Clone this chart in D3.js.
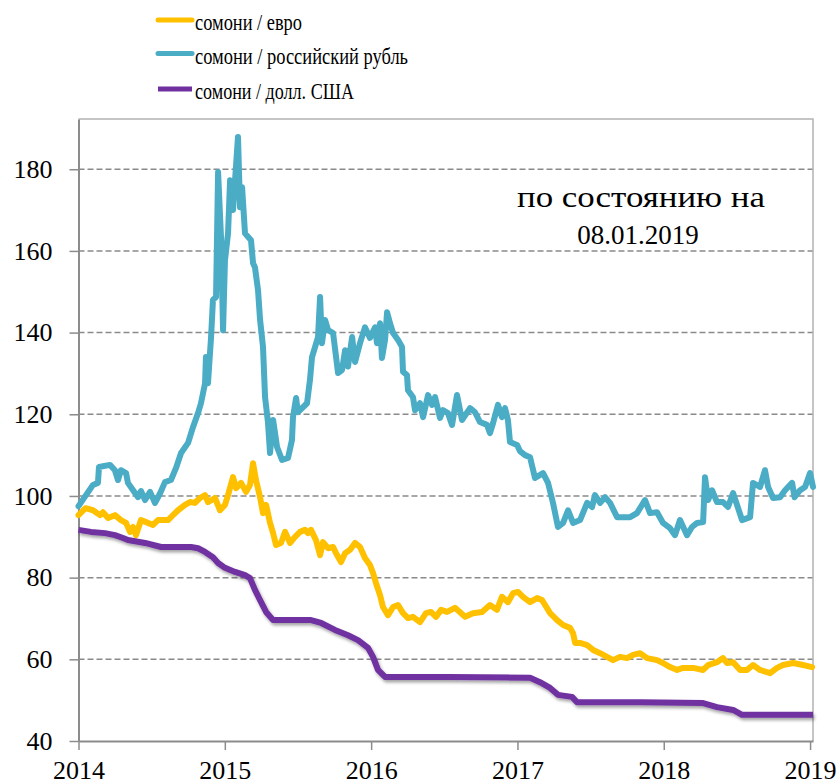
<!DOCTYPE html>
<html>
<head>
<meta charset="utf-8">
<script src="https://cdn.jsdelivr.net/npm/d3@7"></script>
<style>
  body { margin: 0; background: #fff; }
  svg { display: block; }
  text { font-family: "Liberation Serif", "DejaVu Serif", serif; fill: #000; }
</style>
</head>
<body>
<div id="chart"></div>
<script>
// chart params
var svgWidth = 840;
var svgHeight = 784;

// plot box (pixels)
var plotLeft = 78.5, plotRight = 813, plotTop = 119, plotBottom = 741;

// y ticks and x ticks
var yTicks = [40, 60, 80, 100, 120, 140, 160, 180];
var xTicks = [2014, 2015, 2016, 2017, 2018, 2019];

var seriesNames = ["сомони / евро", "сомони / российский рубль", "сомони / долл. США"];
var seriesColors = ["#ffc000", "#4bacc6", "#7030a0"];

// somoni / russian rouble (decimal years, index values)
var rubYears = [2014.000, 2014.099, 2014.133, 2014.140, 2014.215, 2014.249, 2014.270, 2014.290, 2014.325, 2014.338,
  2014.373, 2014.407, 2014.427, 2014.455, 2014.489, 2014.523, 2014.557, 2014.591, 2014.632, 2014.666,
  2014.701, 2014.749, 2014.783, 2014.817, 2014.837, 2014.865, 2014.871, 2014.885, 2014.906, 2014.919,
  2014.940, 2014.954, 2014.974, 2014.988, 2015.001, 2015.022, 2015.036, 2015.056, 2015.070, 2015.090,
  2015.104, 2015.118, 2015.138, 2015.179, 2015.193, 2015.206, 2015.227, 2015.241, 2015.261, 2015.275,
  2015.295, 2015.309, 2015.330, 2015.357, 2015.391, 2015.432, 2015.459, 2015.466, 2015.487, 2015.500,
  2015.562, 2015.582, 2015.596, 2015.617, 2015.637, 2015.651, 2015.664, 2015.685, 2015.706, 2015.740,
  2015.774, 2015.801, 2015.822, 2015.842, 2015.870, 2015.890, 2015.924, 2015.958, 2015.992, 2016.027,
  2016.040, 2016.061, 2016.074, 2016.095, 2016.109, 2016.129, 2016.150, 2016.184, 2016.211, 2016.218,
  2016.245, 2016.252, 2016.286, 2016.300, 2016.334, 2016.355, 2016.389, 2016.416, 2016.437, 2016.471,
  2016.491, 2016.525, 2016.553, 2016.587, 2016.621, 2016.676, 2016.710, 2016.744, 2016.792, 2016.812,
  2016.833, 2016.867, 2016.894, 2016.915, 2016.935, 2016.949, 2016.997, 2017.017, 2017.052, 2017.086,
  2017.120, 2017.175, 2017.209, 2017.243, 2017.277, 2017.312, 2017.346, 2017.380, 2017.428, 2017.476,
  2017.510, 2017.530, 2017.565, 2017.599, 2017.633, 2017.681, 2017.770, 2017.817, 2017.872, 2017.906,
  2017.954, 2017.995, 2018.043, 2018.077, 2018.111, 2018.159, 2018.193, 2018.228, 2018.269, 2018.282,
  2018.303, 2018.330, 2018.364, 2018.405, 2018.439, 2018.474, 2018.501, 2018.535, 2018.590, 2018.610,
  2018.658, 2018.692, 2018.713, 2018.747, 2018.795, 2018.829, 2018.877, 2018.894, 2018.932, 2018.966,
  2019.000, 2019.020];
var rubValues = [97.5, 102.7, 103.2, 107.1, 107.6, 106.3, 103.9, 106.3, 105.6, 103.2,
  101.4, 99.7, 101.2, 99.0, 101.0, 98.3, 100.6, 103.4, 103.9, 106.8,
  110.5, 113.0, 116.9, 120.3, 122.7, 127.6, 134.0, 127.6, 138.9, 148.0,
  148.7, 179.3, 163.4, 140.6, 157.7, 164.3, 177.3, 170.0, 177.3, 187.9,
  170.7, 175.6, 164.3, 162.6, 157.0, 156.0, 150.4, 143.1, 136.5, 124.2,
  118.0, 110.5, 118.6, 112.0, 108.8, 109.3, 113.7, 119.3, 124.0, 120.5,
  122.7, 128.4, 134.0, 136.5, 138.9, 148.7, 137.4, 143.1, 140.6, 139.9,
  130.1, 130.8, 135.7, 131.7, 138.9, 132.8, 137.4, 141.3, 138.7, 141.3,
  137.4, 142.3, 133.8, 138.2, 145.0, 142.3, 139.9, 138.2, 136.5, 130.4,
  129.6, 125.9, 124.2, 121.0, 122.7, 119.3, 124.7, 122.3, 124.2, 119.1,
  121.0, 120.3, 117.4, 124.7, 118.6, 121.5, 120.5, 118.1, 117.4, 115.4,
  117.8, 122.3, 119.3, 121.5, 118.6, 113.2, 112.5, 111.0, 110.0, 109.5,
  104.4, 105.6, 103.2, 98.3, 92.4, 93.4, 96.5, 93.4, 94.1, 98.3,
  97.3, 100.2, 98.3, 99.7, 98.3, 94.8, 94.8, 95.8, 99.0, 95.8,
  96.0, 93.4, 92.1, 90.4, 94.1, 90.4, 92.4, 93.4, 93.6, 104.6,
  99.0, 101.4, 98.5, 98.5, 97.3, 100.7, 97.8, 94.1, 94.8, 103.2,
  102.2, 106.3, 102.2, 99.5, 99.7, 101.4, 103.2, 99.7, 101.4, 102.2,
  105.6, 102.2];

// somoni / euro
var eurYears = [2014.000, 2014.048, 2014.099, 2014.147, 2014.167, 2014.202, 2014.249, 2014.290, 2014.325, 2014.352,
  2014.373, 2014.393, 2014.427, 2014.462, 2014.509, 2014.543, 2014.612, 2014.646, 2014.680, 2014.728,
  2014.762, 2014.796, 2014.830, 2014.865, 2014.885, 2014.933, 2014.967, 2015.001, 2015.022, 2015.056,
  2015.077, 2015.111, 2015.145, 2015.172, 2015.193, 2015.213, 2015.241, 2015.261, 2015.282, 2015.309,
  2015.330, 2015.350, 2015.384, 2015.412, 2015.446, 2015.480, 2015.514, 2015.548, 2015.569, 2015.589,
  2015.623, 2015.651, 2015.671, 2015.705, 2015.740, 2015.760, 2015.794, 2015.822, 2015.856, 2015.890,
  2015.924, 2015.958, 2015.992, 2016.013, 2016.033, 2016.061, 2016.081, 2016.115, 2016.150, 2016.184,
  2016.218, 2016.252, 2016.286, 2016.334, 2016.375, 2016.409, 2016.443, 2016.478, 2016.519, 2016.573,
  2016.642, 2016.696, 2016.758, 2016.812, 2016.860, 2016.894, 2016.935, 2016.970, 2017.004, 2017.038,
  2017.086, 2017.134, 2017.168, 2017.189, 2017.223, 2017.271, 2017.312, 2017.359, 2017.380, 2017.394,
  2017.428, 2017.476, 2017.517, 2017.565, 2017.612, 2017.653, 2017.701, 2017.749, 2017.790, 2017.838,
  2017.886, 2017.954, 2017.995, 2018.043, 2018.091, 2018.132, 2018.200, 2018.269, 2018.303, 2018.364,
  2018.405, 2018.433, 2018.474, 2018.522, 2018.569, 2018.610, 2018.658, 2018.727, 2018.774, 2018.815,
  2018.884, 2018.952, 2019.014];
var eurValues = [95.3, 97.0, 96.5, 95.3, 96.0, 94.6, 95.3, 94.1, 93.4, 91.2,
  92.4, 90.4, 94.1, 93.6, 92.9, 94.1, 94.1, 95.3, 96.5, 97.8,
  98.5, 98.3, 99.5, 100.2, 98.5, 99.5, 96.5, 97.8, 100.2, 104.6,
  101.9, 103.2, 101.0, 102.7, 108.0, 103.9, 99.7, 95.8, 97.8, 93.4,
  90.9, 88.0, 88.5, 91.2, 88.5, 90.0, 91.2, 91.7, 90.9, 91.7,
  89.2, 85.5, 88.7, 87.2, 87.5, 86.0, 83.8, 86.0, 86.8, 88.5,
  87.5, 84.8, 83.1, 81.1, 78.7, 75.7, 72.8, 70.8, 72.8, 73.3,
  71.3, 70.1, 70.4, 69.1, 71.3, 71.6, 70.4, 72.1, 71.6, 72.6,
  70.4, 71.3, 71.6, 73.3, 72.1, 75.3, 74.0, 76.2, 76.5, 75.3,
  74.0, 75.0, 74.5, 73.3, 71.3, 69.6, 68.4, 67.7, 66.4, 64.0,
  64.0, 63.5, 62.3, 61.5, 60.6, 59.8, 60.6, 60.3, 61.1, 61.5,
  60.3, 59.8, 59.1, 58.1, 57.4, 57.9, 57.9, 57.4, 58.6, 59.3,
  60.3, 59.1, 59.3, 57.4, 57.4, 58.6, 57.4, 56.6, 57.9, 58.6,
  59.1, 58.6, 58.1];

// somoni / US dollar
var usdYears = [2014.000, 2014.085, 2014.181, 2014.249, 2014.304, 2014.338, 2014.455, 2014.564, 2014.680, 2014.769,
  2014.817, 2014.865, 2014.919, 2014.954, 2015.001, 2015.070, 2015.138, 2015.172, 2015.206, 2015.241,
  2015.282, 2015.330, 2015.412, 2015.589, 2015.658, 2015.753, 2015.842, 2015.910, 2015.979, 2016.013,
  2016.047, 2016.095, 2016.525, 2017.086, 2017.154, 2017.223, 2017.277, 2017.373, 2017.407, 2017.838,
  2018.269, 2018.364, 2018.474, 2018.535, 2019.020];
var usdValues = [91.7, 91.2, 90.9, 90.4, 89.7, 89.2, 88.5, 87.5, 87.5, 87.5,
  87.2, 86.3, 85.0, 83.6, 82.4, 81.4, 80.6, 79.9, 77.0, 74.5,
  71.6, 69.6, 69.6, 69.6, 68.9, 67.2, 65.9, 64.7, 62.8, 60.6,
  57.4, 55.7, 55.7, 55.5, 54.4, 53.0, 51.3, 50.8, 49.5, 49.5,
  49.3, 48.3, 47.6, 46.4, 46.4];

// legend text widths as seen in the picture (text is condensed there)
var legendWidths = [107, 213, 159];

var svg = d3.select("#chart")
  .append("svg")
  .attr("width", svgWidth)
  .attr("height", svgHeight);

var defs = svg.append("defs");
var shadow = defs.append("filter")
  .attr("id", "shadow")
  .attr("x", "-5%").attr("y", "-20%")
  .attr("width", "110%").attr("height", "140%");
shadow.append("feDropShadow")
  .attr("dx", 1.5)
  .attr("dy", 2.5)
  .attr("stdDeviation", 1.5)
  .attr("flood-color", "#000")
  .attr("flood-opacity", 0.35);

// scales
var xScale = d3.scaleLinear()
  .domain([2014, 2019.02])
  .range([plotLeft, plotRight]);

var yScale = d3.scaleLinear()
  .domain([40, 192.3])
  .range([plotBottom, plotTop]);

// gridlines
svg.append("g")
  .selectAll("line")
  .data(yTicks.filter(d => d > 40))
  .enter()
  .append("line")
  .attr("x1", plotLeft)
  .attr("x2", plotRight)
  .attr("y1", d => yScale(d))
  .attr("y2", d => yScale(d))
  .attr("stroke", "#8a8a8a")
  .attr("stroke-width", 1.5)
  .attr("stroke-dasharray", "6,3");

// top and right border
svg.append("path")
  .attr("d", `M${plotLeft},${plotTop}H${plotRight}V${plotBottom}`)
  .attr("fill", "none")
  .attr("stroke", "#b3b3b3")
  .attr("stroke-width", 1.5);

// y axis
var yAxis = d3.axisLeft(yScale)
  .tickValues(yTicks)
  .tickSize(9)
  .tickSizeOuter(0)
  .tickPadding(17);

var yAxisG = svg.append("g")
  .attr("transform", `translate(${plotLeft}, 0)`)
  .call(yAxis);

// x axis
var xAxis = d3.axisBottom(xScale)
  .tickValues(xTicks)
  .tickFormat(d3.format("d"))
  .tickSize(9)
  .tickSizeOuter(0);

var xAxisG = svg.append("g")
  .attr("transform", `translate(0, ${plotBottom})`)
  .call(xAxis);

xAxisG.selectAll("text")
  .attr("y", 38)
  .attr("dy", null);

[yAxisG, xAxisG].forEach(function(g) {
  g.select(".domain").attr("stroke", "#8c8c8c").attr("stroke-width", 2);
  g.selectAll(".tick line").attr("stroke", "#8c8c8c").attr("stroke-width", 1.5);
  g.selectAll("text")
    .style("font-family", "'Liberation Serif', serif")
    .style("font-size", "26px")
    .attr("fill", "#000");
});

// lines
var line = d3.line()
  .x(d => xScale(d[0]))
  .y(d => yScale(d[1]));

var series = [
  { name: seriesNames[0], color: seriesColors[0], pts: d3.zip(eurYears, eurValues), width: 6 },
  { name: seriesNames[1], color: seriesColors[1], pts: d3.zip(rubYears, rubValues), width: 6 },
  { name: seriesNames[2], color: seriesColors[2], pts: d3.zip(usdYears, usdValues), width: 6 }
];

series.forEach(function(s, i) {
  var p = svg.append("path")
    .datum(s.pts)
    .attr("d", line)
    .attr("fill", "none")
    .attr("stroke", s.color)
    .attr("stroke-width", s.width)
    .attr("stroke-linejoin", "round")
    .attr("stroke-linecap", i === 2 ? "butt" : "round");
  if (i === 2) p.attr("filter", "url(#shadow)");
});

// legend
var legend = svg.append("g");
var legendY = [20, 53.5, 89];
series.forEach(function(s, i) {
  legend.append("line")
    .attr("x1", 158)
    .attr("x2", 192)
    .attr("y1", legendY[i])
    .attr("y2", legendY[i])
    .attr("stroke", s.color)
    .attr("stroke-width", 5)
    .attr("stroke-linecap", i === 2 ? "butt" : "round");
  legend.append("text")
    .attr("x", 195)
    .attr("y", legendY[i] + 10)
    .attr("textLength", legendWidths[i])
    .attr("lengthAdjust", "spacingAndGlyphs")
    .style("font-size", "24px")
    .text(s.name);
});

// note (first line is wider in the picture's font)
svg.append("text")
  .attr("x", 517)
  .attr("y", 207)
  .attr("textLength", 248)
  .attr("lengthAdjust", "spacingAndGlyphs")
  .style("font-size", "30px")
  .text("по состоянию на");
svg.append("text")
  .attr("x", 638)
  .attr("y", 244)
  .attr("text-anchor", "middle")
  .style("font-size", "27px")
  .text("08.01.2019");
</script>
</body>
</html>
